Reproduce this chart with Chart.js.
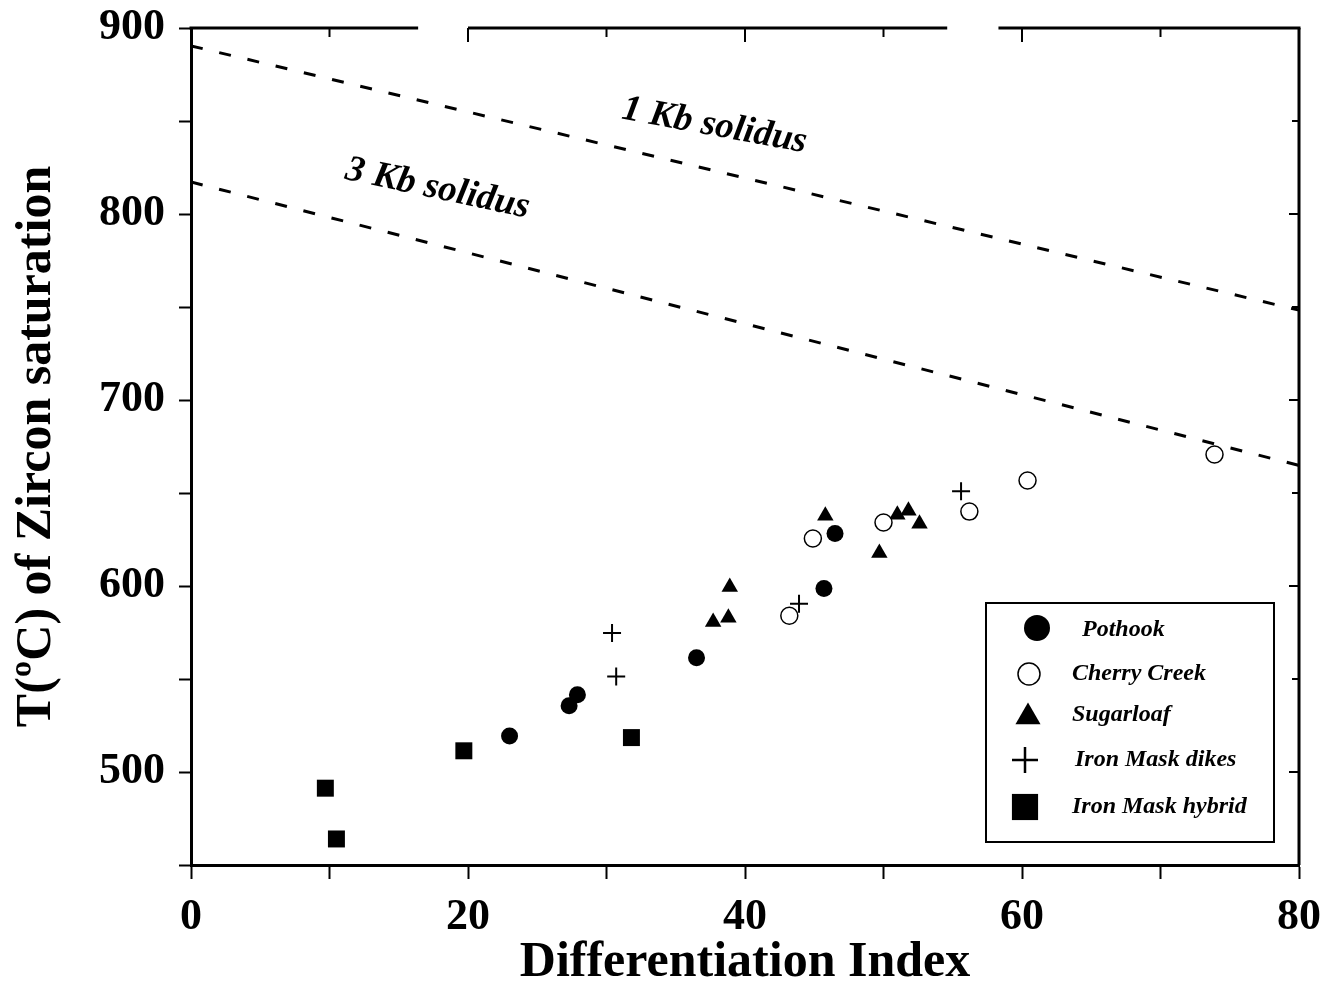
<!DOCTYPE html>
<html><head><meta charset="utf-8">
<script src="https://cdn.jsdelivr.net/npm/chart.js@4.4.0/dist/chart.umd.min.js"></script>
<style>html,body{margin:0;padding:0;background:#fff}#wrap{width:1326px;height:988px}</style>
</head><body><div id="wrap"><canvas id="c" width="1326" height="988"></canvas></div>
<script>
// ---- data ----
const pothookX = [23.0, 27.3, 27.9, 36.5, 45.7, 46.5];
const pothookY = [519.4, 535.6, 541.5, 561.4, 598.6, 628.2];
const cherryX = [43.2, 44.9, 50.0, 56.2, 60.4, 73.9];
const cherryY = [584.0, 625.5, 634.1, 640.0, 656.7, 670.7];
const sugarX = [37.7, 38.8, 38.9, 45.8, 49.7, 51.0, 51.8, 52.6];
const sugarY = [580.7, 582.9, 599.5, 637.8, 617.8, 638.3, 640.5, 633.5];
const dikesX = [30.4, 30.7, 43.9, 55.6];
const dikesY = [574.7, 551.4, 590.5, 651.0];
const hybridX = [9.7, 10.5, 19.7, 31.8];
const hybridY = [491.3, 464.0, 511.4, 518.5];
const solidus1X = [0, 80];
const solidus1Y = [890.4, 748.3];
const solidus3X = [0, 80];
const solidus3Y = [817.2, 664.8];
const solidusLabels = ['1 Kb solidus', '3 Kb solidus'];
const solidusLabelX = [37.8, 17.8];
const solidusLabelY = [847.3, 813.5];
const solidusLabelAngle = [10.5, 12];
const xTickLabels = [0, 20, 40, 60, 80];
const yTickLabels = [500, 600, 700, 800, 900];
const seriesNames = ['Pothook', 'Cherry Creek', 'Sugarloaf', 'Iron Mask dikes', 'Iron Mask hybrid'];

const pts = (xs, ys) => xs.map((v, i) => ({x: v, y: ys[i]}));
const SERIF = '"Liberation Serif", "Times New Roman", serif';

const framePlugin = {
  id: 'frame',
  afterDraw(chart) {
    const {ctx, chartArea: a, scales: {x, y}} = chart;
    ctx.save();
    ctx.strokeStyle = '#000';
    ctx.lineCap = 'butt';
    // top & right frame
    ctx.lineWidth = 3;
    ctx.beginPath(); ctx.moveTo(a.left - 1.5, a.top); ctx.lineTo(a.right + 1.5, a.top); ctx.stroke();
    ctx.beginPath(); ctx.moveTo(a.right, a.top); ctx.lineTo(a.right, a.bottom); ctx.stroke();
    // gaps in the scanned top frame
    ctx.fillStyle = '#fff';
    [[16.4, 20.0], [54.6, 58.3]].forEach(g => {
      const x0 = x.getPixelForValue(g[0]), x1 = x.getPixelForValue(g[1]);
      ctx.fillRect(x0, a.top - 4, x1 - x0, 8);
    });
    // inward ticks on top and right
    ctx.lineWidth = 2;
    x.ticks.forEach(t => {
      if (t.value <= x.min || t.value >= x.max) return;
      const px = x.getPixelForValue(t.value);
      const len = t.value % 20 === 0 ? 14 : 9;
      ctx.beginPath(); ctx.moveTo(px, a.top); ctx.lineTo(px, a.top + len); ctx.stroke();
    });
    y.ticks.forEach(t => {
      if (t.value <= y.min || t.value >= y.max) return;
      const py = y.getPixelForValue(t.value);
      const len = t.value % 100 === 0 ? 10 : 7;
      ctx.beginPath(); ctx.moveTo(a.right, py); ctx.lineTo(a.right - len, py); ctx.stroke();
    });
    // solidus labels
    ctx.fillStyle = '#000';
    ctx.font = 'italic bold 37px ' + SERIF;
    ctx.textAlign = 'center';
    ctx.textBaseline = 'middle';
    solidusLabels.forEach((s, i) => {
      ctx.save();
      ctx.translate(x.getPixelForValue(solidusLabelX[i]), y.getPixelForValue(solidusLabelY[i]));
      ctx.rotate(solidusLabelAngle[i] * Math.PI / 180);
      ctx.fillText(s, 0, 0);
      ctx.restore();
    });
    // legend
    const L = {left: 986, top: 603, w: 288, h: 239};
    ctx.fillStyle = '#fff';
    ctx.fillRect(L.left, L.top, L.w, L.h);
    ctx.lineWidth = 2;
    ctx.strokeRect(L.left, L.top, L.w, L.h);
    const mk = [[1037, 628, 13], [1029, 674, 11], [1028, 717, 14.5], [1025, 760, 13], [1025, 807, 18.5]];
    const tx = [[1082, 630], [1072, 674], [1072, 715], [1075, 760], [1072, 807]];
    ctx.font = 'italic bold 24px ' + SERIF;
    ctx.textAlign = 'left';
    ctx.textBaseline = 'middle';
    chart.data.datasets.filter(d => seriesNames.includes(d.label)).forEach((d, i) => {
      const [mx, my, r] = mk[i];
      ctx.save();
      ctx.lineWidth = d.borderWidth || 0;
      ctx.strokeStyle = d.borderColor;
      ctx.fillStyle = d.backgroundColor;
      ctx.beginPath();
      if (d.pointStyle === 'circle') {
        ctx.arc(mx, my, r, 0, Math.PI * 2); ctx.fill(); if (d.borderWidth) ctx.stroke();
      } else if (d.pointStyle === 'triangle') {
        ctx.moveTo(mx, my - r); ctx.lineTo(mx + r * 0.866, my + r * 0.5); ctx.lineTo(mx - r * 0.866, my + r * 0.5); ctx.closePath(); ctx.fill();
      } else if (d.pointStyle === 'cross') {
        ctx.lineWidth = 2.5;
        ctx.moveTo(mx - r, my); ctx.lineTo(mx + r, my); ctx.moveTo(mx, my - r); ctx.lineTo(mx, my + r); ctx.stroke();
      } else if (d.pointStyle === 'rect') {
        const s = r * Math.SQRT1_2; ctx.fillRect(mx - s, my - s, 2 * s, 2 * s);
      }
      ctx.restore();
      ctx.fillStyle = '#000';
      ctx.fillText(d.label, tx[i][0], tx[i][1]);
    });
    ctx.restore();
  }
};

const dashLine = (label, xs, ys) => ({
  type: 'line', label, data: pts(xs, ys), borderColor: '#000', borderWidth: 3,
  borderDash: [12, 17], pointRadius: 0, fill: false, tension: 0, showLine: true, order: 0
});

new Chart(document.getElementById('c'), {
  type: 'scatter',
  data: {
    datasets: [
      dashLine('1 Kb solidus', solidus1X, solidus1Y),
      dashLine('3 Kb solidus', solidus3X, solidus3Y),
      {label: seriesNames[0], data: pts(pothookX, pothookY), pointStyle: 'circle', pointRadius: 8.5,
       backgroundColor: '#000', borderColor: '#000', borderWidth: 0, order: 1},
      {label: seriesNames[1], data: pts(cherryX, cherryY), pointStyle: 'circle', pointRadius: 8.5,
       backgroundColor: '#fff', borderColor: '#000', borderWidth: 1.5, order: 1},
      {label: seriesNames[2], data: pts(sugarX, sugarY), pointStyle: 'triangle', pointRadius: 9.5,
       backgroundColor: '#000', borderColor: '#000', borderWidth: 0, order: 1},
      {label: seriesNames[3], data: pts(dikesX, dikesY), pointStyle: 'cross', pointRadius: 9,
       backgroundColor: '#000', borderColor: '#000', borderWidth: 2, order: 1},
      {label: seriesNames[4], data: pts(hybridX, hybridY), pointStyle: 'rect', pointRadius: 12,
       backgroundColor: '#000', borderColor: '#000', borderWidth: 0, order: 1}
    ]
  },
  options: {
    responsive: false, animation: false, devicePixelRatio: 1,
    layout: {padding: {top: 28, right: 27, left: 0, bottom: 0}},
    plugins: {legend: {display: false}, tooltip: {enabled: false}},
    scales: {
      x: {
        type: 'linear', position: 'bottom', min: 0, max: 80,
        afterFit: s => { s.height = 123; s.paddingLeft = 0; s.paddingRight = 0; },
        border: {display: true, color: '#000', width: 3},
        grid: {drawOnChartArea: false, drawTicks: true, tickLength: 14, tickWidth: 2, tickColor: '#000'},
        ticks: {stepSize: 10, padding: 12, color: '#000', maxRotation: 0, autoSkip: false,
          font: {family: SERIF, weight: 'bold', size: 44},
          callback: v => xTickLabels.includes(v) ? String(v) : ''},
        title: {display: true, text: 'Differentiation Index', color: '#000',
          font: {family: SERIF, weight: 'bold', size: 50, lineHeight: 1}, padding: {top: 0, bottom: 0}}
      },
      y: {
        type: 'linear', position: 'left', min: 450, max: 900,
        afterFit: s => { s.width = 191; s.paddingTop = 0; s.paddingBottom = 0; },
        border: {display: true, color: '#000', width: 3},
        grid: {drawOnChartArea: false, drawTicks: true, tickLength: 12, tickWidth: 2, tickColor: '#000'},
        ticks: {stepSize: 50, padding: 14, color: '#000', autoSkip: false,
          font: {family: SERIF, weight: 'bold', size: 44},
          callback: v => yTickLabels.includes(v) ? String(v) : ''},
        title: {display: true, text: 'T(ºC) of Zircon saturation', color: '#000',
          font: {family: SERIF, weight: 'bold', size: 50, lineHeight: 1}, padding: {top: 12, bottom: 0}}
      }
    }
  },
  plugins: [framePlugin]
});
</script></body></html>
